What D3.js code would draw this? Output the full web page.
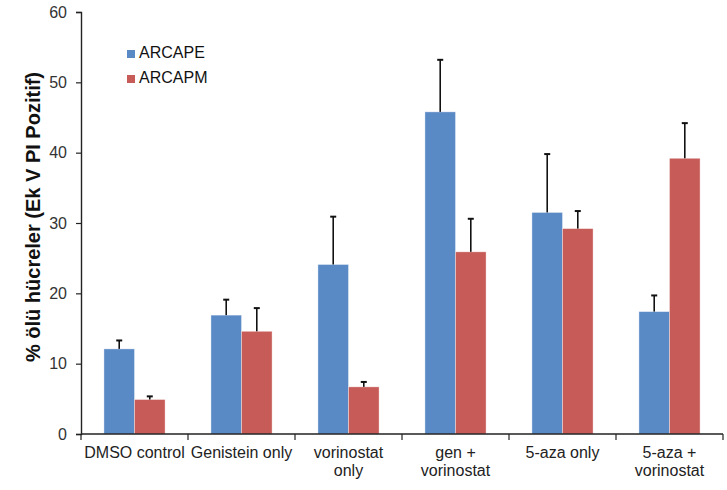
<!DOCTYPE html>
<html>
<head>
<meta charset="utf-8">
<script src="https://cdn.jsdelivr.net/npm/d3@7"></script>
<style>
  body { margin: 0; background: #fff; }
  text { font-family: "Liberation Sans", Arial, sans-serif; }
</style>
</head>
<body>
<svg id="chart" width="727" height="490"></svg>
<script>
// categories and series
const categories = ["DMSO control", "Genistein only", "vorinostat only", "gen + vorinostat", "5-aza only", "5-aza + vorinostat"];
const categoryLines = [["DMSO control"], ["Genistein only"], ["vorinostat", "only"], ["gen +", "vorinostat"], ["5-aza only"], ["5-aza +", "vorinostat"]];
const seriesNames = ["ARCAPE", "ARCAPM"];
const arcapeValues = [12.1, 16.9, 24.1, 45.8, 31.5, 17.4];
const arcapeErrors = [1.2, 2.2, 6.8, 7.4, 8.3, 2.3];
const arcapmValues = [4.9, 14.6, 6.7, 25.9, 29.2, 39.2];
const arcapmErrors = [0.45, 3.3, 0.7, 4.7, 2.5, 5.0];
const yTicks = [0, 10, 20, 30, 40, 50, 60];

const colors = ["#5A8AC6", "#C65B58"];
const MARGIN = { left: 81, top: 12, right: 4, bottom: 56 };
const width = 727 - MARGIN.left - MARGIN.right;
const height = 490 - MARGIN.top - MARGIN.bottom;

const svg = d3.select("#chart");
const g = svg.append("g").attr("transform", `translate(${MARGIN.left},${MARGIN.top})`);

const xScale = d3.scaleBand().domain(categories).range([0, width]);
const innerScale = d3.scaleBand().domain(seriesNames).range([0, xScale.bandwidth()]).paddingOuter(0.75).paddingInner(0);
const yScale = d3.scaleLinear().domain([0, 60]).range([height, 0]);

const rows = categories.map((c, i) => ({
  cat: c,
  vals: [
    { s: seriesNames[0], v: arcapeValues[i], e: arcapeErrors[i], c: colors[0] },
    { s: seriesNames[1], v: arcapmValues[i], e: arcapmErrors[i], c: colors[1] }
  ]
}));

// bars
const groups = g.selectAll(".grp").data(rows).enter().append("g")
  .attr("class", "grp")
  .attr("transform", d => `translate(${xScale(d.cat)},0)`);

groups.selectAll("rect").data(d => d.vals).enter().append("rect")
  .attr("x", d => innerScale(d.s))
  .attr("y", d => yScale(d.v))
  .attr("width", innerScale.bandwidth())
  .attr("height", d => height - yScale(d.v))
  .attr("fill", d => d.c)
  .attr("stroke", "rgba(255,255,255,0.45)")
  .attr("stroke-width", 0.8);

// error bars (upper only)
const errs = groups.selectAll(".err").data(d => d.vals).enter().append("g").attr("class", "err");
errs.append("line")
  .attr("x1", d => innerScale(d.s) + innerScale.bandwidth() / 2)
  .attr("x2", d => innerScale(d.s) + innerScale.bandwidth() / 2)
  .attr("y1", d => yScale(d.v))
  .attr("y2", d => yScale(d.v + d.e))
  .attr("stroke", "#111").attr("stroke-width", 1.6);
errs.append("line")
  .attr("x1", d => innerScale(d.s) + innerScale.bandwidth() / 2 - 3)
  .attr("x2", d => innerScale(d.s) + innerScale.bandwidth() / 2 + 3)
  .attr("y1", d => yScale(d.v + d.e))
  .attr("y2", d => yScale(d.v + d.e))
  .attr("stroke", "#111").attr("stroke-width", 2);

// y axis
const yAxis = g.append("g")
  .call(d3.axisLeft(yScale).tickValues(yTicks).tickSize(5).tickPadding(9));
yAxis.select(".domain").attr("stroke", "#222").attr("stroke-width", 1.4);
yAxis.selectAll(".tick line").attr("stroke", "#222").attr("stroke-width", 1.2);
yAxis.selectAll("text").style("font-size", "16px").attr("fill", "#333");

// x axis: ticks at category boundaries
const xAxis = g.append("g").attr("transform", `translate(0,${height})`);
xAxis.append("line").attr("x1", 0).attr("x2", width).attr("y1", 0).attr("y2", 0)
  .attr("stroke", "#222").attr("stroke-width", 1.4);
xAxis.selectAll(".xt").data(categories.concat(["end"])).enter().append("line")
  .attr("x1", (d, i) => i * xScale.bandwidth())
  .attr("x2", (d, i) => i * xScale.bandwidth())
  .attr("y1", 0).attr("y2", 6)
  .attr("stroke", "#222").attr("stroke-width", 1.2);

const labels = xAxis.selectAll(".xl").data(categories).enter().append("text")
  .attr("x", d => xScale(d) + xScale.bandwidth() / 2)
  .attr("y", 24)
  .attr("text-anchor", "middle")
  .style("font-size", "16px")
  .attr("fill", "#222");
labels.selectAll("tspan").data((d, i) => categoryLines[i]).enter().append("tspan")
  .attr("x", function () { return d3.select(this.parentNode).attr("x"); })
  .attr("dy", (d, i) => i === 0 ? 0 : 18)
  .text(d => d);

// y axis title
svg.append("text")
  .attr("transform", "translate(40,217) rotate(-90)")
  .attr("text-anchor", "middle")
  .style("font-size", "20px")
  .style("font-weight", "bold")
  .attr("fill", "#111")
  .text("% ölü hücreler (Ek V PI Pozitif)");

// legend
const legend = svg.append("g").attr("transform", "translate(127,50)");
seriesNames.forEach((s, i) => {
  legend.append("rect").attr("x", 0).attr("y", i * 25).attr("width", 8).attr("height", 8).attr("fill", colors[i]);
  legend.append("text").attr("x", 12).attr("y", i * 25 + 8)
    .style("font-size", "16px").attr("fill", "#111").text(s);
});
</script>
</body>
</html>
